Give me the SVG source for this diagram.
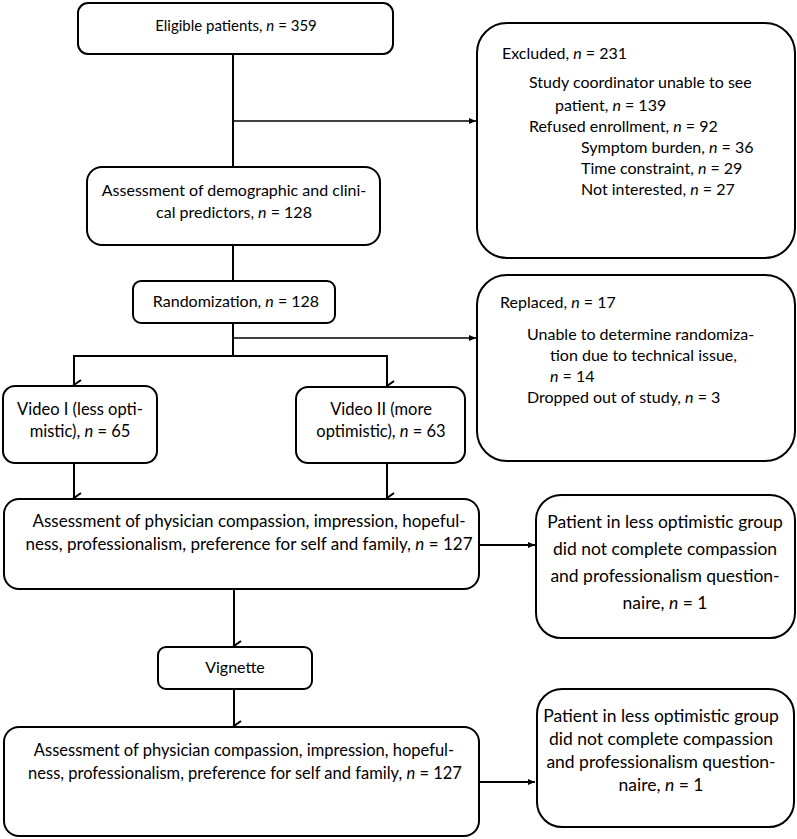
<svg xmlns="http://www.w3.org/2000/svg" width="797" height="839" viewBox="0 0 797 839">
<defs>
<style>
.box{fill:#fff;stroke:#000;stroke-width:2}
.t{font-family:Lato,"Liberation Sans",sans-serif;font-size:16px;fill:#000}
.c{text-anchor:middle}
.i{font-style:italic}
.ln{fill:none;stroke:#000;stroke-width:2}
.s15{font-size:15px}
.s165{font-size:16.5px}
.s17{font-size:17px}
.s175{font-size:17.5px}
</style>
<marker id="chev" markerWidth="12" markerHeight="12" refX="6" refY="10" orient="auto-start-reverse" markerUnits="userSpaceOnUse" viewBox="0 0 12 12">
<path d="M1,3 L6,10 L11,3" fill="none" stroke="#000" stroke-width="2"/>
</marker>
<marker id="tri" markerWidth="8" markerHeight="8" refX="7" refY="4" orient="auto" markerUnits="userSpaceOnUse" viewBox="0 0 8 8">
<path d="M0,1 L7,4 L0,7 Z" fill="#000"/>
</marker>
</defs>
<rect width="797" height="839" fill="#fff"/>
<g id="connectors">
<line class="ln" x1="233" y1="54" x2="233" y2="167"/>
<line class="ln" x1="233" y1="121" x2="476" y2="121" marker-end="url(#tri)" style="stroke-width:1.5"/>
<line class="ln" x1="233" y1="245" x2="233" y2="281"/>
<line class="ln" x1="233" y1="323" x2="233" y2="356"/>
<line class="ln" x1="233" y1="338" x2="476" y2="338" marker-end="url(#tri)" style="stroke-width:1.5"/>
<polyline class="ln" points="74,385 74,356 387,356 387,386" marker-start="url(#chev)" marker-end="url(#chev)"/>
<line class="ln" x1="74" y1="463" x2="74" y2="498" marker-end="url(#chev)"/>
<line class="ln" x1="387" y1="463" x2="387" y2="498" marker-end="url(#chev)"/>
<line class="ln" x1="479" y1="545" x2="535" y2="545" marker-end="url(#tri)"/>
<line class="ln" x1="234" y1="589" x2="234" y2="646" marker-end="url(#chev)"/>
<line class="ln" x1="234" y1="689" x2="234" y2="726" marker-end="url(#chev)"/>
<line class="ln" x1="479" y1="782" x2="535" y2="782" marker-end="url(#tri)"/>
</g>
<g id="eligible">
<rect class="box" x="78" y="3" width="315" height="51" rx="10"/>
<text class="t c s15" x="236" y="31">Eligible patients, <tspan class="i">n</tspan> = 359</text>
</g>
<g id="excluded">
<rect class="box" x="477" y="23" width="318" height="235" rx="30"/>
<text class="t" x="502" y="59">Excluded, <tspan class="i">n</tspan> = 231</text>
<text class="t" x="529" y="88">Study coordinator unable to see</text>
<text class="t" x="555" y="111">patient, <tspan class="i">n</tspan> = 139</text>
<text class="t" x="529" y="132">Refused enrollment, <tspan class="i">n</tspan> = 92</text>
<text class="t" x="581" y="153">Symptom burden, <tspan class="i">n</tspan> = 36</text>
<text class="t" x="581" y="174">Time constraint, <tspan class="i">n</tspan> = 29</text>
<text class="t" x="581" y="195">Not interested, <tspan class="i">n</tspan> = 27</text>
</g>
<g id="assess-demo">
<rect class="box" x="87" y="167" width="293" height="78" rx="15"/>
<text class="t c" x="234" y="196">Assessment of demographic and clini-</text>
<text class="t c" x="234" y="218">cal predictors, <tspan class="i">n</tspan> = 128</text>
</g>
<g id="randomization">
<rect class="box" x="133" y="281" width="202" height="42" rx="8"/>
<text class="t c" x="236" y="307">Randomization, <tspan class="i">n</tspan> = 128</text>
</g>
<g id="replaced">
<rect class="box" x="477" y="275" width="318" height="186" rx="30"/>
<text class="t" x="500" y="308">Replaced, <tspan class="i">n</tspan> = 17</text>
<text class="t" x="527" y="340">Unable to determine randomiza-</text>
<text class="t" x="550" y="361">tion due to technical issue,</text>
<text class="t" x="550" y="382"><tspan class="i">n</tspan> = 14</text>
<text class="t" x="527" y="403">Dropped out of study, <tspan class="i">n</tspan> = 3</text>
</g>
<g id="video1">
<rect class="box" x="3" y="386" width="154" height="77" rx="12"/>
<text class="t c s165" x="80" y="415">Video I (less opti-</text>
<text class="t c s165" x="80" y="437">mistic), <tspan class="i">n</tspan> = 65</text>
</g>
<g id="video2">
<rect class="box" x="296" y="387" width="169" height="76" rx="12"/>
<text class="t c s165" x="381" y="415">Video II (more</text>
<text class="t c s165" x="381" y="437">optimistic), <tspan class="i">n</tspan> = 63</text>
</g>
<g id="assess-phys-1">
<rect class="box" x="4" y="499" width="475" height="90" rx="15"/>
<text class="t c s17" x="249" y="527">Assessment of physician compassion, impression, hopeful-</text>
<text class="t c s17" x="249" y="550">ness, professionalism, preference for self and family, <tspan class="i">n</tspan> = 127</text>
</g>
<g id="missing-1">
<rect class="box" x="536" y="495" width="259" height="143" rx="25"/>
<text class="t c s175" x="665" y="528">Patient in less optimistic group</text>
<text class="t c s175" x="665" y="555">did not complete compassion</text>
<text class="t c s175" x="665" y="582">and professionalism question-</text>
<text class="t c s175" x="665" y="609">naire, <tspan class="i">n</tspan> = 1</text>
</g>
<g id="vignette">
<rect class="box" x="158" y="647" width="154" height="42" rx="8"/>
<text class="t c" x="235" y="673">Vignette</text>
</g>
<g id="assess-phys-2">
<rect class="box" x="4" y="727" width="475" height="109" rx="15"/>
<text class="t c s165" x="244" y="756">Assessment of physician compassion, impression, hopeful-</text>
<text class="t c s165" x="245" y="779">ness, professionalism, preference for self and family, <tspan class="i">n</tspan> = 127</text>
</g>
<g id="missing-2">
<rect class="box" x="537" y="689" width="257" height="138" rx="25"/>
<text class="t c s175" x="661" y="722">Patient in less optimistic group</text>
<text class="t c s175" x="661" y="745">did not complete compassion</text>
<text class="t c s175" x="661" y="768">and professionalism question-</text>
<text class="t c s175" x="661" y="791">naire, <tspan class="i">n</tspan> = 1</text>
</g>
</svg>
